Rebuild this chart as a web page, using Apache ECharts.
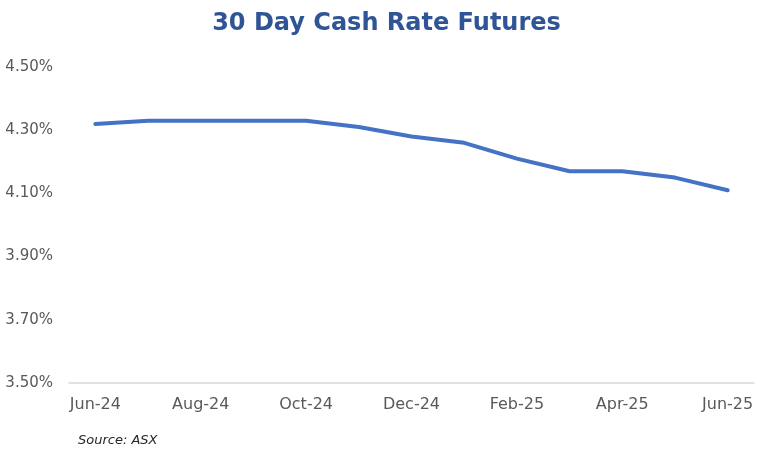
<!DOCTYPE html>
<html>
<head>
<meta charset="utf-8">
<script src="https://cdn.jsdelivr.net/npm/echarts@6/dist/echarts.min.js"></script>
<style>
  html, body { margin: 0; padding: 0; background: #fff; }
  #chart { width: 773px; height: 455px; }
</style>
</head>
<body>
<div id="chart"></div>
<script>
  // 月份
  var months = ['Jun-24', 'Jul-24', 'Aug-24', 'Sep-24', 'Oct-24', 'Nov-24', 'Dec-24',
                'Jan-25', 'Feb-25', 'Mar-25', 'Apr-25', 'May-25', 'Jun-25'];
  // 期货利率 (%)
  var futures = [4.32, 4.33, 4.33, 4.33, 4.33, 4.31, 4.28, 4.26, 4.21, 4.17, 4.17, 4.15, 4.11];

  var font = 'DejaVu Sans';
  var chart = echarts.init(document.getElementById('chart'));
  chart.setOption({
    backgroundColor: '#fff',
    animation: false,
    title: [{
      text: '30 Day Cash Rate Futures',
      left: 'center',
      top: 7,
      textStyle: { color: '#2F5597', fontSize: 24, fontWeight: 'bold', fontFamily: font }
    }, {
      text: 'Source: ASX',
      left: 73,
      top: 429,
      textStyle: { color: '#262626', fontSize: 13, fontStyle: 'italic', fontWeight: 'normal', fontFamily: font }
    }],
    grid: { left: 69, right: 19, top: 67, bottom: 72 },
    xAxis: {
      type: 'category',
      data: months,
      boundaryGap: true,
      axisLine: { lineStyle: { color: '#D9D9D9', width: 1.5 } },
      axisTick: { show: false },
      axisLabel: {
        interval: 1,
        color: '#595959',
        fontSize: 16,
        margin: 14,
        fontFamily: font
      }
    },
    yAxis: {
      type: 'value',
      min: 3.5,
      max: 4.5,
      interval: 0.2,
      splitLine: { show: false },
      axisLine: { show: false },
      axisTick: { show: false },
      axisLabel: {
        color: '#595959',
        fontSize: 15,
        margin: 16,
        fontFamily: font,
        formatter: function (v) { return v.toFixed(2) + '%'; }
      }
    },
    series: [{
      type: 'line',
      data: futures,
      symbol: 'none',
      lineStyle: { color: '#4472C4', width: 4, cap: 'round', join: 'round' }
    }]
  });
</script>
</body>
</html>
